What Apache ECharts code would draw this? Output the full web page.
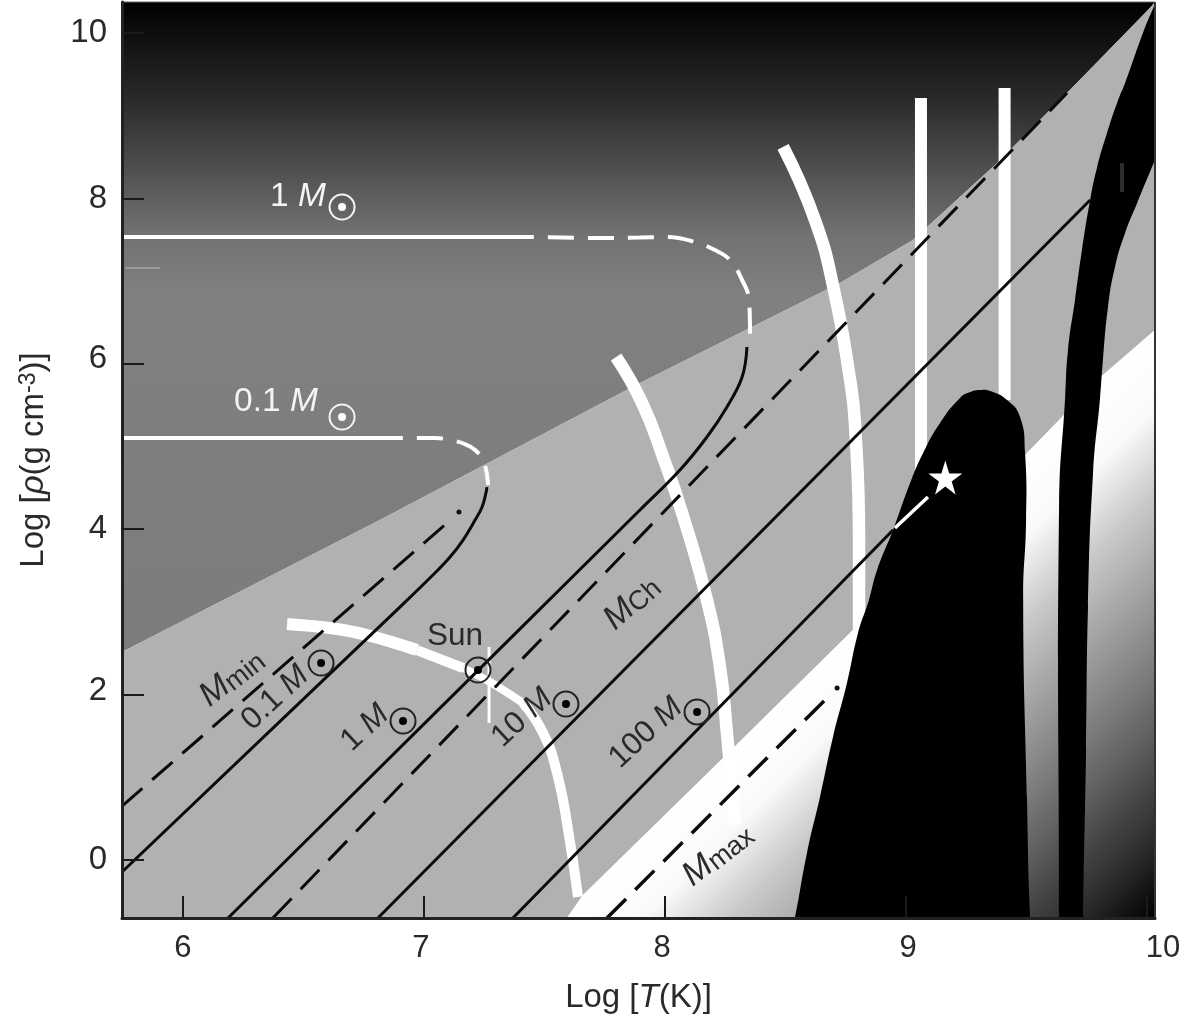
<!DOCTYPE html>
<html>
<head>
<meta charset="utf-8">
<style>html,body{margin:0;padding:0;background:#fff}#c{width:1188px;height:1019px}#c canvas{filter:blur(0.6px)}</style>
<script src="https://cdn.jsdelivr.net/npm/echarts@6/dist/echarts.min.js"></script>
</head>
<body>
<div id="c"></div>
<script>
var xMin = 5.747, xMax = 10.033, yMin = -0.701, yMax = 10.375;
var xTicks = [6, 7, 8, 9, 10];
var yTicks = [0, 2, 4, 6, 8, 10];

// region boundaries
var upperEdge = [[5.747,2.515],[6.817,4.111],[7.896,5.768],[8.477,6.614],[8.726,6.977],[9.029,7.497],[9.378,8.428],[9.668,9.275],[10.012,10.302],[10.033,10.375]];
var lowerEdge = [[7.593,-0.701],[7.660,-0.423],[8.241,1.233],[8.780,2.781],[9.502,4.921],[9.817,5.865],[10.033,6.409]];
var blackCore = [[8.500,-1.200],[8.539,-0.701],[8.589,0.085],[8.643,0.762],[8.697,1.487],[8.755,2.140],[8.801,2.745],[8.846,3.144],[8.880,3.507],[8.946,3.990],[9.017,4.559],[9.071,4.921],[9.141,5.284],[9.224,5.587],[9.266,5.659],[9.307,5.683],[9.349,5.671],[9.419,5.562],[9.473,5.357],[9.494,4.921],[9.498,4.111],[9.486,3.144],[9.502,0.726],[9.515,-0.701],[9.530,-1.200]];
var blackBand = [[9.635,-1.200],[9.635,-0.701],[9.635,4.268],[9.660,5.587],[9.672,6.167],[9.701,6.772],[9.730,7.376],[9.764,7.981],[9.793,8.380],[9.834,8.791],[9.880,9.190],[9.909,9.396],[9.983,10.000],[10.033,10.351],[10.200,11.500],[10.300,11.500],[10.300,10.300],[10.033,8.464],[9.959,7.944],[9.909,7.582],[9.867,7.171],[9.838,6.687],[9.817,6.046],[9.805,5.587],[9.776,4.680],[9.755,3.059],[9.747,1.330],[9.735,-0.701],[9.735,-1.200]];

// black mass tracks
var line01 = [[5.747,-0.145],[6.900,3.059],[7.037,3.446],[7.108,3.664],[7.162,3.869],[7.212,4.111],[7.241,4.268],[7.257,4.438],[7.261,4.510]];
var line1 = [[6.187,-0.701],[7.896,4.232],[8.062,4.716],[8.174,5.115],[8.257,5.478],[8.320,5.840],[8.340,6.203]];
var line10 = [[6.809,-0.701],[9.764,7.981]];
var line100 = [[7.369,-0.701],[8.946,3.990]];
var line100End = [[8.954,4.015],[9.091,4.389]];
var dashMin = [[5.747,0.653],[7.100,4.087]];
var dashCh = [[6.373,-0.701],[9.668,9.275]];
var dashMax = [[7.759,-0.701],[8.668,1.947]];
var endDots = [[7.145,4.208],[8.714,2.080]];

// white tracks
var white1Solid = [[5.747,7.533],[7.452,7.533]];
var white1Dash = [[7.452,7.533],[7.730,7.521],[7.896,7.527],[8.012,7.533],[8.124,7.473],[8.207,7.376],[8.270,7.255],[8.320,7.013],[8.349,6.772],[8.353,6.324]];
var white01Solid = [[5.747,5.103],[6.888,5.103]];
var white01Dash = [[6.888,5.103],[7.046,5.103],[7.108,5.079],[7.170,5.030],[7.212,4.958],[7.249,4.813],[7.266,4.535]];
var trackA1 = [[6.432,2.854],[6.610,2.805],[6.763,2.721],[6.971,2.539]];
var trackA2 = [[6.971,2.539],[7.162,2.322]];
var trackA3 = [[7.162,2.322],[7.274,2.152],[7.411,1.898]];
var trackA4 = [[7.411,1.898],[7.494,1.536],[7.552,1.052],[7.598,0.363],[7.639,-0.447]];
var trackB = [[7.797,6.082],[7.905,5.526],[7.992,4.873],[8.071,4.196],[8.174,3.144],[8.228,2.334],[8.257,1.536],[8.290,0.423]];
var trackC = [[8.490,8.622],[8.622,7.739],[8.701,6.892],[8.768,5.804],[8.788,5.284],[8.805,3.869],[8.805,2.721]];
var trackD = [[9.062,9.214],[9.062,4.716]];
var trackE = [[9.409,9.335],[9.409,5.562]];
var sunTick = [[7.270,2.576],[7.270,1.657]];
var greyMark = [[9.896,8.428],[9.896,8.078]];
var faintMark = [[5.760,7.159],[5.905,7.159]];

var sunSymbols = [[6.660,7.896,'w'],[6.660,5.357,'w'],[6.573,2.382,'k'],[6.913,1.681,'k'],[7.224,2.297,'k'],[7.589,1.886,'k'],[8.133,1.790,'k']];
var starPoint = [[9.163,4.625]];

var whiteTexts = [
  {t:'{n|1 }{i|M}', p:[6.477,8.017], r:0},
  {t:'{n|0.1 }{i|M}', p:[6.386,5.538], r:0}
];
var darkTexts = [
  {t:'{n|Sun}', p:[7.129,2.709], r:0},
  {t:'{I|M}{s|min}', p:[6.203,2.201], r:38},
  {t:'{n|0.1 }{i|M}', p:[6.382,1.959], r:43},
  {t:'{n|1 }{i|M}', p:[6.755,1.596], r:43},
  {t:'{n|10 }{i|M}', p:[7.407,1.717], r:43},
  {t:'{n|100 }{i|M}', p:[7.921,1.536], r:43},
  {t:'{I|M}{s|Ch}', p:[7.863,3.108], r:42},
  {t:'{I|M}{s|max}', p:[8.220,0.060], r:38}
];

var FONT = '"Liberation Sans", Arial, sans-serif';
var zc = 1;
function poly(points, fill, smooth){
  return {type:'custom', silent:true, animation:false, z:zc++, coordinateSystem:'cartesian2d', clip:true,
    data:[points[0]],
    renderItem:function(params, api){
      return {type:'polygon', shape:{points:points.map(function(p){return api.coord(p);}), smooth:smooth||0}, style:{fill:fill}};
    }};
}
function line(points, color, width, opts){
  opts = opts || {};
  return {type:'line', silent:true, animation:false, z:zc++, data:points, showSymbol:false, symbol:'none',
    smooth: opts.smooth || false, clip:true,
    lineStyle:{color:color, width:width, cap:opts.cap||'butt', type:opts.dash||'solid', dashOffset:opts.offset||0}};
}
function texts(items, color, size){
  var rich = {
    n:{fontSize:size, color:color, fontFamily:FONT},
    i:{fontSize:size, color:color, fontFamily:FONT, fontStyle:'italic'},
    I:{fontSize:34, color:color, fontFamily:FONT, fontStyle:'italic'},
    s:{fontSize:27, color:color, fontFamily:FONT, verticalAlign:'bottom', padding:[8,0,0,0]}
  };
  return {type:'scatter', silent:true, animation:false, z:zc++, symbolSize:1, itemStyle:{color:'rgba(0,0,0,0)', opacity:1},
    data:items.map(function(o){
      return {value:o.p, label:{show:true, position:'inside', formatter:o.t, rotate:o.r, rich:rich, align:'center', verticalAlign:'middle'}};
    })};
}
function grad(x2,y2,stops){
  return new echarts.graphic.LinearGradient(0,0,x2,y2,stops.map(function(s){return {offset:s[0],color:s[1]};}));
}

var topFill = grad(0,1,[[0,'#000'],[0.15,'#2a2a2a'],[0.3,'#5e5e5e'],[0.36,'#727272'],[0.45,'#808080'],[1,'#7c7c7c']]);
var botFill = grad(1,1,[[0,'#ffffff'],[0.496,'#ffffff'],[0.564,'#fafafa'],[0.64,'#c8c8c8'],[0.81,'#707070'],[0.938,'#282828'],[1,'#000000']]);

var topPoly = [[xMin,yMax],[xMax,yMax]].concat(upperEdge.slice().reverse());
var midPoly = upperEdge.concat(lowerEdge.slice().reverse()).concat([[xMin,yMin]]);
var lowPoly = lowerEdge.concat([[xMax,yMin]]);

var series = [
  poly(topPoly, topFill),
  poly(midPoly, '#b1b1b1'),
  poly(lowPoly, botFill),
  line(faintMark,'#9a9a9a',2),
  line(trackD,'#fff',12),
  line(trackE,'#fff',12),
  line(trackC,'#fff',12.5,{smooth:0.5}),
  line(trackB,'#fff',12.5,{smooth:0.5}),
  line(trackA1,'#fff',12,{smooth:0.4}),
  line(trackA2,'#fff',10),
  line(trackA3,'#fff',8,{smooth:0.4}),
  line(trackA4,'#fff',10,{smooth:0.5}),
  line(sunTick,'#fff',3),
  poly(blackCore,'#000',0.5),
  poly(blackBand,'#000',0.5),
  line(greyMark,'#2e2e2e',4),
  line(white1Solid,'#fff',4),
  line(white1Dash,'#fff',4,{smooth:0.4,dash:[26,14],offset:25}),
  line(white01Solid,'#fff',4),
  line(white01Dash,'#fff',4,{smooth:0.4,dash:[26,14],offset:20}),
  line(line01,'#0a0a0a',3,{smooth:0.4}),
  line(line1,'#0a0a0a',3,{smooth:0.4}),
  line(line10,'#0a0a0a',3),
  line(line100,'#0a0a0a',3),
  line(line100End,'#fff',3.5),
  line(dashMin,'#0a0a0a',3,{dash:[27,13]}),
  line(dashCh,'#0a0a0a',3,{dash:[27,13]}),
  line(dashMax,'#0a0a0a',3.5,{dash:[27,13]}),
  {type:'scatter', silent:true, animation:false, z:zc++, data:endDots, symbolSize:5, itemStyle:{color:'#111', opacity:1}},
  {type:'scatter', silent:true, animation:false, z:zc++, data:sunSymbols.map(function(s){return {value:[s[0],s[1]], itemStyle:{color:'rgba(0,0,0,0)',borderColor:s[2]==='w'?'#f4f4f4':'#222',opacity:1}};}), symbol:'circle', symbolSize:25, itemStyle:{borderWidth:2}},
  {type:'scatter', silent:true, animation:false, z:zc++, data:sunSymbols.map(function(s){return {value:[s[0],s[1]], itemStyle:{color:s[2]==='w'?'#fff':'#000',opacity:1}};}), symbol:'circle', symbolSize:8},
  {type:'scatter', silent:true, animation:false, z:zc++, data:starPoint, symbol:'path://M50 2 L61 38 L98 38 L68 60 L79 96 L50 74 L21 96 L32 60 L2 38 L39 38 Z', symbolSize:34, itemStyle:{color:'#fff', opacity:1}},
  texts(whiteTexts,'#f4f4f4',33.5),
  texts(darkTexts,'#2a2a2a',31.5),
  line([[xMax,yMin],[xMax,yMax]],'#333',2),
  line([[xMin,yMax],[xMax,yMax]],'#666',1)
];
series[series.length-1].clip = false;
series[series.length-2].clip = false;

var axisText = {fontSize:33, color:'#2a2a2a', fontFamily:FONT};
var tx = {fontSize:31, color:'#2a2a2a', fontFamily:FONT};
var ty = {fontSize:33, color:'#2a2a2a', fontFamily:FONT};
var chart = echarts.init(document.getElementById('c'), null, {renderer:'canvas'});
chart.setOption({
  animation:false,
  backgroundColor:'#fff',
  grid:{left:122, top:2, width:1033, height:916, show:false, outerBoundsMode:'none', containLabel:false},
  xAxis:{type:'value', min:xMin, max:xMax, splitLine:{show:false}, z:100,
    axisLine:{show:true, onZero:false, lineStyle:{color:'#222', width:3}},
    axisTick:{show:true, inside:true, length:22, customValues:xTicks, lineStyle:{color:'#1a1a1a', width:2}},
    axisLabel:{show:true, margin:15, customValues:xTicks, fontSize:31, color:'#2a2a2a', fontFamily:FONT,
      formatter:function(v){
        if(v===10) return '{r|10}';
        if(v===7||v===8) return '{l|'+v+'}';
        if(v===9) return '{m|'+v+'}';
        return String(v);
      },
      rich:{
        r:Object.assign({padding:[0,0,0,32]},tx),
        l:Object.assign({padding:[0,6,0,0]},tx),
        m:Object.assign({padding:[0,0,0,4]},tx)
      }},
    name:'{n|Log [}{i|T}{n|(K)]}', nameLocation:'middle', nameGap:63,
    nameTextStyle:{rich:{n:axisText, i:{fontSize:33,color:'#2a2a2a',fontFamily:FONT,fontStyle:'italic'}}}
  },
  yAxis:{type:'value', min:yMin, max:yMax, splitLine:{show:false}, z:100,
    axisLine:{show:true, onZero:false, lineStyle:{color:'#222', width:3}},
    axisTick:{show:true, inside:true, length:22, customValues:yTicks, lineStyle:{color:'#1a1a1a', width:2}},
    axisLabel:{show:true, margin:15, customValues:yTicks, fontSize:33, color:'#2a2a2a', fontFamily:FONT,
      formatter:function(v){
        if(v===6) return '{a|6}';
        if(v===2) return '{b|2}';
        return String(v);
      },
      rich:{ a:Object.assign({padding:[0,0,10,0]},ty), b:Object.assign({padding:[0,0,8,0]},ty) }},
    name:'{n|Log [}{i|ρ}{n|(g cm}{u|-3}{n|)]}', nameLocation:'middle', nameGap:72, nameRotate:90,
    nameTextStyle:{rich:{n:axisText, i:{fontSize:33,color:'#2a2a2a',fontFamily:FONT,fontStyle:'italic'},
      u:{fontSize:23,color:'#2a2a2a',fontFamily:FONT,verticalAlign:'top',padding:[0,0,10,0]}}}
  },
  series:series
});
</script>
</body>
</html>
